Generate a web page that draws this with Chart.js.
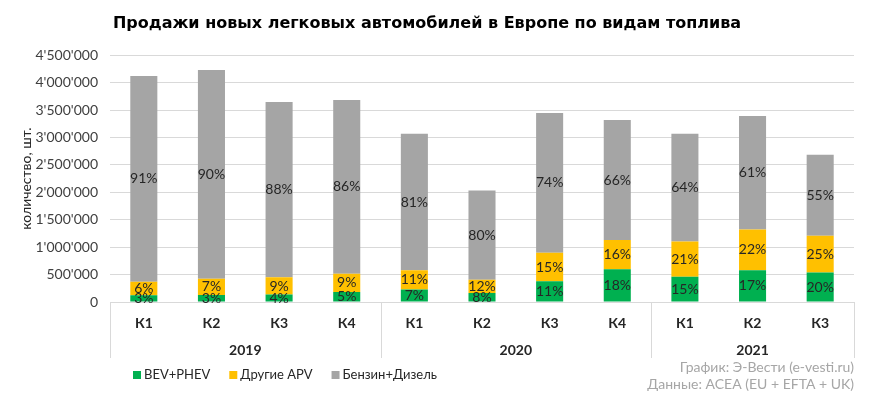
<!DOCTYPE html>
<html><head><meta charset="utf-8">
<script src="https://cdn.jsdelivr.net/npm/chart.js@4.4.0/dist/chart.umd.min.js"></script>
<style>html,body{margin:0;padding:0;background:#fff}canvas{display:block}</style>
</head><body>
<canvas id="c" width="870" height="400"></canvas>
<script>
const quarters = ['К1','К2','К3','К4','К1','К2','К3','К4','К1','К2','К3'];
const years = ['2019','2020','2021'];
const yearSpans = [4, 4, 3];
const bevPhev      = [124000, 127000, 135000, 184000, 227000, 163000, 379000, 598000, 460000, 577000, 537000];
const otherApv     = [247000, 296000, 314000, 331000, 350000, 244000, 517000, 531000, 644000, 746000, 671000];
const petrolDiesel = [3749000, 3805000, 3198000, 3168000, 2489000, 1625000, 2551000, 2191000, 1962000, 2070000, 1477000];
const seriesNames = ['BEV+PHEV', 'Другие APV', 'Бензин+Дизель'];
const seriesColors = ['#00b050', '#ffc000', '#a5a5a5'];
const yMax = 4500000, yStep = 500000;
const titleText = 'Продажи новых легковых автомобилей в Европе по видам топлива';
const yTitle = 'количество, шт.';
const sourceLines = ['График: Э-Вести (e-vesti.ru)', 'Данные: ACEA (EU + EFTA + UK)'];

const FONT = "Lato, 'Open Sans', 'Liberation Sans', sans-serif";
const TITLE_FONT = "'DejaVu Sans', 'Liberation Sans', sans-serif";

function fmt(n){ return String(n).replace(/\B(?=(\d{3})+(?!\d))/g, "'"); }

const totals = quarters.map((_, i) => bevPhev[i] + otherApv[i] + petrolDiesel[i]);

const extras = {
  id: 'extras',
  afterDatasetsDraw(chart) {
    const ctx = chart.ctx;
    ctx.save();
    ctx.font = "14px " + FONT;
    ctx.fillStyle = '#262626';
    ctx.textAlign = 'center';
    ctx.textBaseline = 'middle';
    chart.data.datasets.forEach((ds, di) => {
      const meta = chart.getDatasetMeta(di);
      meta.data.forEach((el, i) => {
        const pct = Math.round(ds.data[i] / totals[i] * 100) + '%';
        ctx.fillText(pct, el.x, (el.y + el.base) / 2);
      });
    });
    ctx.restore();
  },
  afterDraw(chart) {
    const ctx = chart.ctx;
    const xs = chart.scales.x;
    const ca = chart.chartArea;
    ctx.save();
    const bounds = [xs.left];
    let idx = 0;
    yearSpans.forEach(s => {
      idx += s;
      if (idx < quarters.length) {
        bounds.push((xs.getPixelForValue(idx - 1) + xs.getPixelForValue(idx)) / 2);
      } else {
        bounds.push(xs.right);
      }
    });
    ctx.strokeStyle = '#d9d9d9';
    ctx.lineWidth = 1;
    bounds.forEach(b => {
      const x = Math.round(b) + 0.5;
      ctx.beginPath();
      ctx.moveTo(x, ca.bottom);
      ctx.lineTo(x, ca.bottom + 56);
      ctx.stroke();
    });
    ctx.font = "bold 14px " + FONT;
    ctx.fillStyle = '#262626';
    ctx.textAlign = 'center';
    ctx.textBaseline = 'middle';
    years.forEach((y, i) => {
      ctx.fillText(y, (bounds[i] + bounds[i + 1]) / 2, ca.bottom + 48);
    });
    ctx.font = "13px " + FONT;
    ctx.textAlign = 'left';
    let lx = 133;
    const ly = 375;
    chart.data.datasets.forEach((ds) => {
      ctx.fillStyle = ds.backgroundColor;
      ctx.fillRect(lx, ly - 4, 8, 8);
      ctx.fillStyle = '#262626';
      ctx.fillText(ds.label, lx + 11, ly);
      lx += 11 + ctx.measureText(ds.label).width + 19;
    });
    ctx.font = "14px " + FONT;
    ctx.fillStyle = '#a6a6a6';
    ctx.textAlign = 'right';
    ctx.fillText(sourceLines[0], 854, 367);
    ctx.fillText(sourceLines[1], 854, 384);
    ctx.restore();
  }
};

new Chart(document.getElementById('c'), {
  type: 'bar',
  data: {
    labels: quarters,
    datasets: [
      { label: seriesNames[0], data: bevPhev, backgroundColor: seriesColors[0] },
      { label: seriesNames[1], data: otherApv, backgroundColor: seriesColors[1] },
      { label: seriesNames[2], data: petrolDiesel, backgroundColor: seriesColors[2] }
    ]
  },
  options: {
    responsive: false,
    animation: false,
    layout: { padding: { left: 0, right: 16, top: 0, bottom: 0 } },
    datasets: { bar: { categoryPercentage: 0.8, barPercentage: 0.5 } },
    plugins: {
      legend: { display: false },
      tooltip: { enabled: false },
      title: {
        display: true,
        text: titleText,
        color: '#000',
        font: { family: TITLE_FONT, size: 16, weight: 'bold' },
        padding: { top: 14, bottom: 22 }
      }
    },
    scales: {
      x: {
        stacked: true,
        grid: { display: false },
        border: { display: true, color: '#d9d9d9' },
        ticks: { color: '#262626', font: { family: FONT, size: 14, weight: 'bold' }, padding: 5 },
        afterFit(s) { s.height = 98; }
      },
      y: {
        stacked: true,
        min: 0, max: yMax,
        ticks: { stepSize: yStep, color: '#404040', font: { family: FONT, size: 14 }, padding: 12, callback: v => fmt(v) },
        grid: { color: '#d9d9d9', drawTicks: false },
        border: { display: false },
        title: { display: true, text: yTitle, color: '#262626', font: { family: FONT, size: 14 }, padding: { top: 18 } },
        afterFit(s) { s.width = 110; }
      }
    }
  },
  plugins: [extras]
});
</script>
</body></html>
